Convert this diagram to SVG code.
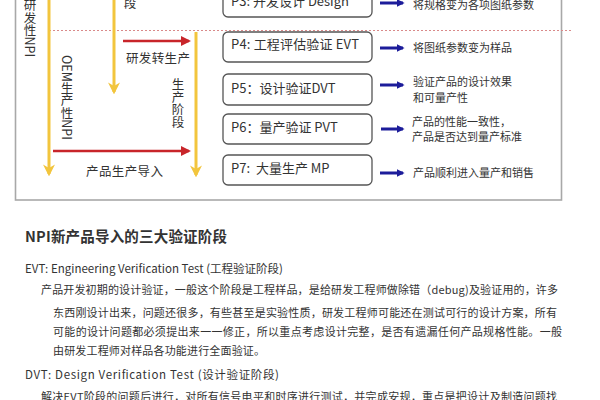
<svg xmlns="http://www.w3.org/2000/svg" width="600" height="400" viewBox="0 0 600 400">
<style>
text{font-family:"Noto Sans CJK SC","Noto Sans",sans-serif;fill:#333}
.box{fill:#fff;stroke:#555;stroke-width:1.3}
.pt{font-size:13px}
.desc{font-size:11px}
.lab{font-size:12.5px}
.vt{font-size:12.5px;writing-mode:tb}
.yl{stroke:#f2c53d;stroke-width:3;fill:none}
.rl{stroke:#c8252a;stroke-width:2.5;fill:none}
.bl{stroke:#1c1c9a;stroke-width:3;fill:none}
.body{font-size:11px}
.head{font-size:11.5px}
</style>
<defs>
<marker id="ya" viewBox="0 0 10 10" refX="8" refY="5" markerUnits="userSpaceOnUse" markerWidth="12" markerHeight="12" orient="auto"><path d="M0,0 L10,5 L0,10 L3,5 Z" fill="#f2c53d"/></marker>
<marker id="ra" viewBox="0 0 10 10" refX="8" refY="5" markerUnits="userSpaceOnUse" markerWidth="10" markerHeight="10" orient="auto"><path d="M0,0 L10,5 L0,10 Z" fill="#c8252a"/></marker>
<marker id="ba" viewBox="0 0 10 10" refX="8" refY="5" markerUnits="userSpaceOnUse" markerWidth="8" markerHeight="8" orient="auto"><path d="M0,0 L10,5 L0,10 Z" fill="#1c1c9a"/></marker>
</defs>
<rect width="600" height="400" fill="#fff"/>
<rect x="15.5" y="-10" width="546" height="210" fill="none" stroke="#a8a8a8" stroke-width="1.6"/>

<g id="connectors">
<line x1="49" y1="30.5" x2="573" y2="30.5" stroke="#d98a8a" stroke-width="1" stroke-dasharray="2,2"/>
<line class="yl" x1="49" y1="-5" x2="49" y2="174" marker-end="url(#ya)"/>
<line class="yl" x1="114" y1="-5" x2="114" y2="92" marker-end="url(#ya)"/>
<line class="yl" x1="196" y1="32" x2="196" y2="175" marker-end="url(#ya)"/>
<line class="rl" x1="123" y1="41" x2="189" y2="41" marker-end="url(#ra)"/>
<line class="rl" x1="53" y1="151" x2="189" y2="151" marker-end="url(#ra)"/>
<line class="bl" x1="380" y1="3" x2="403" y2="3" marker-end="url(#ba)"/>
<line class="bl" x1="380" y1="48" x2="403" y2="48" marker-end="url(#ba)"/>
<line class="bl" x1="380" y1="85" x2="403" y2="85" marker-end="url(#ba)"/>
<line class="bl" x1="381" y1="129" x2="403" y2="129" marker-end="url(#ba)"/>
<line class="bl" x1="380" y1="173" x2="403" y2="173" marker-end="url(#ba)"/>
</g>

<g id="labels">
<text class="vt" x="30" y="-1">研发性NPI</text>
<text class="vt" x="67" y="55">OEM生产性NPI</text>
<text class="vt" x="178" y="78">生产阶段</text>
<text class="lab" x="130" y="8" text-anchor="middle">段</text>
<text class="lab" x="126" y="63" textLength="64">研发转生产</text>
<text class="lab" x="86" y="176" textLength="77">产品生产导入</text>
</g>

<g id="p3"><rect class="box" x="223" y="-15" width="149" height="32" rx="5"/><text class="pt" x="231" y="6">P3: 开发设计 Design</text></g>
<g id="p4"><rect class="box" x="223" y="32" width="149" height="30" rx="5"/><text class="pt" x="231" y="49" textLength="128">P4: 工程评估验证 EVT</text></g>
<g id="p5"><rect class="box" x="223" y="74" width="149" height="31" rx="5"/><text class="pt" x="231" y="93">P5：设计验证DVT</text></g>
<g id="p6"><rect class="box" x="223" y="114" width="149" height="30" rx="5"/><text class="pt" x="231" y="132">P6：量产验证 PVT</text></g>
<g id="p7"><rect class="box" x="223" y="155" width="149" height="30" rx="5"/><text class="pt" x="231" y="173" xml:space="preserve">P7:  大量生产 MP</text></g>

<g id="descs">
<text class="desc" x="413" y="9">将规格变为各项图纸参数</text>
<text class="desc" x="413" y="52">将图纸参数变为样品</text>
<text class="desc" x="413" y="86">验证产品的设计效果</text>
<text class="desc" x="413" y="102">和可量产性</text>
<text class="desc" x="412" y="126">产品的性能一致性，</text>
<text class="desc" x="412" y="141">产品是否达到量产标准</text>
<text class="desc" x="413" y="177">产品顺利进入量产和销售</text>
</g>

<g id="article">
<text x="25" y="242" font-size="14.5" font-weight="bold" fill="#222" textLength="202">NPI新产品导入的三大验证阶段</text>
<text class="head" x="25" y="273" textLength="258">EVT: Engineering Verification Test (工程验证阶段)</text>
<text class="body" x="41" y="294" textLength="517">产品开发初期的设计验证，一般这个阶段是工程样品，是给研发工程师做除错（debug)及验证用的，许多</text>
<text class="body" x="53" y="317" textLength="504">东西刚设计出来，问题还很多，有些甚至是实验性质，研发工程师可能还在测试可行的设计方案，所有</text>
<text class="body" x="53" y="336" textLength="509">可能的设计问题都必须提出来一一修正，所以重点考虑设计完整，是否有遗漏任何产品规格性能。一般</text>
<text class="body" x="53" y="355" textLength="212">由研发工程师对样品各功能进行全面验证。</text>
<text class="head" x="25" y="379" textLength="254">DVT: Design Verification Test (设计验证阶段)</text>
<text class="body" x="41" y="401" textLength="516">解决EVT阶段的问题后进行，对所有信号电平和时序进行测试，并完成安规，重点是把设计及制造问题找</text>
</g>
</svg>
